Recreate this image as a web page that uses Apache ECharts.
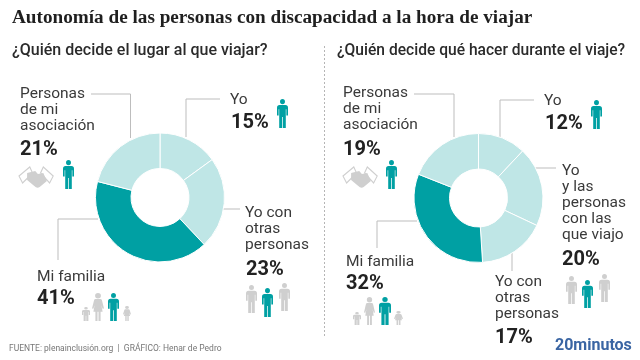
<!DOCTYPE html>
<html>
<head>
<meta charset="utf-8">
<style>html,body{margin:0;padding:0;background:#fff}#main{width:640px;height:360px}</style>
<script src="https://cdn.jsdelivr.net/npm/echarts@6/dist/echarts.min.js"></script>
</head>
<body>
<div id="main"></div>
<script>
var titleText = 'Autonomía de las personas con discapacidad a la hora de viajar';
var leftQuestion = '¿Quién decide el lugar al que viajar?';
var rightQuestion = '¿Quién decide qué hacer durante el viaje?';
var sourceText = 'FUENTE: plenainclusión.org  |  GRÁFICO: Henar de Pedro';
var brandText = '20minutos';

var leftNames = ['Yo', 'Yo con otras personas', 'Mi familia', 'Personas de mi asociación'];
var leftValues = [15, 23, 41, 21];
var leftLabels = [['Yo'], ['Yo con', 'otras', 'personas'], ['Mi familia'], ['Personas', 'de mi', 'asociación']];

var rightNames = ['Yo', 'Yo y las personas con las que viajo', 'Yo con otras personas', 'Mi familia', 'Personas de mi asociación'];
var rightValues = [12, 20, 17, 32, 19];
var rightLabels = [['Yo'], ['Yo', 'y las', 'personas', 'con las', 'que viajo'], ['Yo con', 'otras', 'personas'], ['Mi familia'], ['Personas', 'de mi', 'asociación']];

var TEAL = '#00a0a3', LIGHT = '#bfe6e6', GREY = '#cfcfcf', LINE = '#bdbdbd';

var dom = document.getElementById('main');
var myChart = echarts.init(dom);

// icons, the graphic component only takes registered shapes
echarts.graphic.registerShape('iconMan', echarts.graphic.extendPath('M6 0a2.7 2.7 0 1 1 0 5.4a2.7 2.7 0 1 1 0-5.4Z M2.8 6.2H9.2Q12 6.2 12 9V17H10.2V10.5H9.6V30H6.4V18.5H5.6V30H2.4V10.5H1.8V17H0V9Q0 6.2 2.8 6.2Z', {}));
echarts.graphic.registerShape('iconWoman', echarts.graphic.extendPath('M6 0a2.9 2.9 0 1 1 0 5.8a2.9 2.9 0 1 1 0-5.8Z M3.5 6.4H8.5Q9.6 6.4 10 8L12 16.5 10.6 17 9.4 13 10.6 20H8.6V30H6.5V20H5.5V30H3.4V20H1.4L2.6 13 1.4 17 0 16.5 2 8Q2.4 6.4 3.5 6.4Z', {}));
echarts.graphic.registerShape('iconHands', echarts.graphic.extendPath('M9 6 L18 4 L21 7 L27 6 L31 14 L23 20 Q20 22 17 19 L9 13 Z', {}));
echarts.graphic.registerShape('iconCuffs', echarts.graphic.extendPath('M0 9 L12 0 L15 6 L4 16 Z M38 9 L27 0 L24 6 L34 16 Z', {}));

function person(x, y, w, h, color, kind) {
  return { type: kind || 'iconMan', silent: true, x: x, y: y, scaleX: w / 12, scaleY: h / 30,
    shape: {}, style: { fill: color } };
}
function handshake(x, y) {
  return [
    { type: 'iconCuffs', silent: true, x: x, y: y, scaleX: 0.9, scaleY: 1.0,
      shape: {}, style: { fill: '#fff', stroke: GREY, lineWidth: 1.2 } },
    { type: 'iconHands', silent: true, x: x, y: y, scaleX: 0.9, scaleY: 1.0,
      shape: {}, style: { fill: GREY } }
  ];
}
function polyline(points) {
  return { type: 'polyline', silent: true, shape: { points: points },
    style: { stroke: LINE, lineWidth: 1, fill: null } };
}
function txt(x, y, text, size, weight, color, family) {
  return { type: 'text', silent: true, x: x, y: y + 1.5,
    style: { text: text, font: (weight || 400) + ' ' + size + 'px ' + (family || 'Roboto'),
      fill: color || '#333', verticalAlign: 'middle' } };
}
// label block: lines of text, then the bold percentage
function labelBlock(x, y, lines, value, pctX, pctY) {
  var out = [];
  lines.forEach(function (l, i) { out.push(txt(x, y + i * 16, l, 15.5, 400, '#3a3a3a')); });
  out.push(txt(pctX, pctY, value + '%', 20, 700, '#222'));
  return out;
}

var graphics = [
  txt(12, 17, titleText, 19.2, 700, '#1f1f1f', '"Liberation Serif"'),
  txt(12, 49.5, leftQuestion, 16, 500, '#2b2b2b'),
  txt(337, 49.5, rightQuestion, 15.6, 500, '#2b2b2b'),
  txt(9, 347, sourceText, 8.5, 400, '#777'),
  txt(555, 344.5, brandText, 16, 700, '#3a65a3'),
  { type: 'line', silent: true, shape: { x1: 324.5, y1: 46, x2: 324.5, y2: 338 },
    style: { stroke: '#b5b5b5', lineWidth: 1, lineDash: [2, 2] } },

  // leader lines, left
  polyline([[91, 94], [130.5, 94], [130.5, 138]]),
  polyline([[220, 99], [186, 99], [186, 137]]),
  polyline([[222, 209], [240, 209]]),
  polyline([[98, 219], [58, 219], [58, 260]]),
  // leader lines, right
  polyline([[414, 94], [454, 94], [454, 137]]),
  polyline([[534, 100], [500, 100], [500, 138]]),
  polyline([[533, 168], [556, 168]]),
  polyline([[512, 253], [512, 271]]),
  polyline([[417, 221], [377, 221], [377, 248]]),

  // people, left
  person(277, 99, 11, 29, TEAL),
  person(63, 160, 11, 29, TEAL),
  person(82, 307, 8, 14, GREY),
  person(92, 293, 12, 28, GREY, 'iconWoman'),
  person(108, 293, 11, 28, TEAL),
  person(123, 306, 8, 15, GREY, 'iconWoman'),
  person(246, 285, 11, 28, GREY),
  person(262, 288, 11, 29, TEAL),
  person(279, 283, 11, 28, GREY),
  // people, right
  person(591, 100, 11, 29, TEAL),
  person(386, 160, 11, 29, TEAL),
  person(353, 312, 8, 13, GREY),
  person(364, 297, 11, 28, GREY, 'iconWoman'),
  person(379, 297, 12, 28, TEAL),
  person(394, 311, 9, 14, GREY, 'iconWoman'),
  person(566, 276, 11, 28, GREY),
  person(582, 280, 11, 28, TEAL),
  person(599, 274, 11, 28, GREY)
];
graphics = graphics
  .concat(handshake(19, 167), handshake(343, 167))
  .concat(labelBlock(230, 99, leftLabels[0], leftValues[0], 231, 121))
  .concat(labelBlock(245, 212, leftLabels[1], leftValues[1], 246, 268))
  .concat(labelBlock(37, 276, leftLabels[2], leftValues[2], 37, 297))
  .concat(labelBlock(20, 93, leftLabels[3], leftValues[3], 20, 148))
  .concat(labelBlock(544, 100, rightLabels[0], rightValues[0], 545, 122))
  .concat(labelBlock(562, 170, rightLabels[1], rightValues[1], 562, 258))
  .concat(labelBlock(495, 281, rightLabels[2], rightValues[2], 495, 336))
  .concat(labelBlock(346, 261, rightLabels[3], rightValues[3], 346, 282))
  .concat(labelBlock(343, 92, rightLabels[4], rightValues[4], 343, 148));

function donut(names, values, center, darkIndex) {
  return {
    type: 'pie',
    radius: [29, 64.5],
    center: center,
    startAngle: 90,
    silent: true,
    label: { show: false },
    labelLine: { show: false },
    itemStyle: { borderColor: '#fff', borderWidth: 1 },
    data: names.map(function (n, i) {
      return { name: n, value: values[i], itemStyle: { color: i === darkIndex ? TEAL : LIGHT } };
    })
  };
}

var option = {
  animation: false,
  backgroundColor: '#fff',
  series: [
    donut(leftNames, leftValues, [160, 197.5], 2),
    donut(rightNames, rightValues, [478.5, 198], 3)
  ],
  graphic: graphics
};
myChart.setOption(option);
</script>
</body>
</html>
